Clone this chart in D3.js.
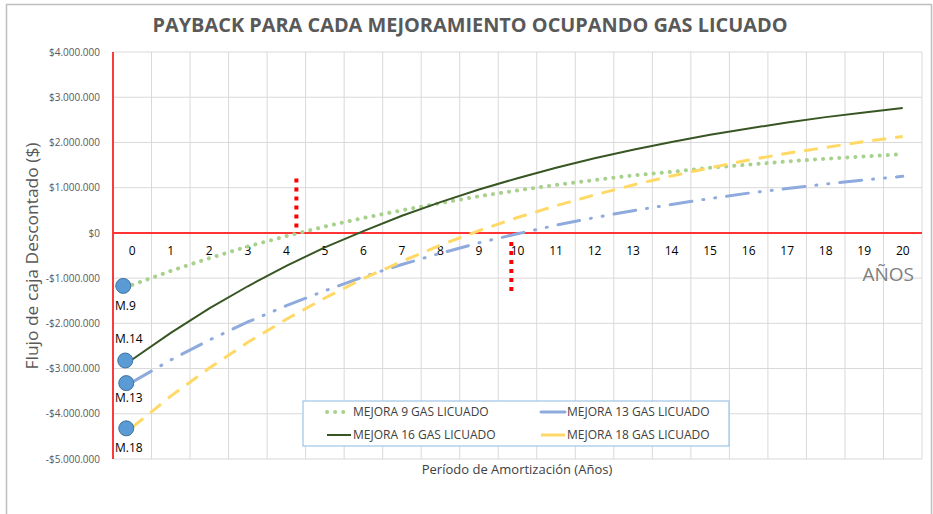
<!DOCTYPE html>
<html>
<head>
<meta charset="utf-8">
<title>Payback para cada mejoramiento</title>
<script src="https://cdn.jsdelivr.net/npm/d3@7"></script>
<style>
  body { margin: 0; background: #fff; }
  svg text { font-family: "Open Sans", "Liberation Sans", sans-serif; }
</style>
</head>
<body>
<svg id="chart" width="933" height="514"></svg>
<script>
  // años 0..20
  const years = d3.range(0, 21);
  const yTicks = [4000000, 3000000, 2000000, 1000000, 0, -1000000, -2000000, -3000000, -4000000, -5000000];

  // flujo de caja descontado acumulado (millones)
  const mejora9 = [-1.15, -0.84, -0.56, -0.30, -0.07, 0.14, 0.33, 0.50, 0.66, 0.81, 0.94, 1.06, 1.17, 1.27, 1.35, 1.44, 1.51, 1.58, 1.64, 1.69, 1.74];
  const mejora13 = [-3.30, -2.81, -2.37, -1.97, -1.61, -1.28, -0.97, -0.70, -0.45, -0.22, -0.02, 0.17, 0.34, 0.49, 0.63, 0.76, 0.88, 0.98, 1.08, 1.17, 1.25];
  const mejora16 = [-2.80, -2.21, -1.67, -1.18, -0.73, -0.32, 0.04, 0.38, 0.68, 0.96, 1.21, 1.44, 1.65, 1.84, 2.01, 2.17, 2.31, 2.44, 2.56, 2.66, 2.76];
  const mejora18 = [-4.30, -3.61, -2.99, -2.42, -1.91, -1.44, -1.01, -0.63, -0.27, 0.05, 0.34, 0.60, 0.84, 1.06, 1.26, 1.44, 1.61, 1.76, 1.89, 2.02, 2.13];

  const series = [
    { name: "MEJORA 9 GAS LICUADO", values: mejora9, color: "#a9d18e", width: 4, dash: "0.1 8", cap: "round" },
    { name: "MEJORA 13 GAS LICUADO", values: mejora13, color: "#8faadc", width: 3, dash: "22 11 1 11 1 11", cap: "round" },
    { name: "MEJORA 16 GAS LICUADO", values: mejora16, color: "#375623", width: 2, dash: null, cap: "butt" },
    { name: "MEJORA 18 GAS LICUADO", values: mejora18, color: "#ffd966", width: 3, dash: "14 9", cap: "butt" }
  ];

  // marcadores manuales al inicio de cada curva
  const markers = [
    { label: "M.9", value: mejora9[0], dx: -9, ly: 310 },
    { label: "M.14", value: mejora16[0], dx: -7, ly: 343 },
    { label: "M.13", value: mejora13[0], dx: -6, ly: 402 },
    { label: "M.18", value: mejora18[0], dx: -6, ly: 452 }
  ];

  const svg = d3.select("#chart");
  const margin = { top: 52, right: 11, bottom: 55, left: 113 };
  const width = 933 - margin.left - margin.right,
    height = 514 - margin.top - margin.bottom;

  // marco exterior
  svg.append("rect")
    .attr("x", 6.5).attr("y", 4.5)
    .attr("width", 925).attr("height", 520)
    .attr("fill", "none")
    .attr("stroke", "#bfbfbf")
    .attr("stroke-width", 1.5);

  const g = svg.append("g").attr("transform", `translate(${margin.left}, ${margin.top})`);

  const x = d3.scaleBand()
    .domain(years)
    .range([0, width]);

  const y = d3.scaleLinear()
    .domain([-5000000, 4000000])
    .range([height, 0]);

  const xc = d => x(d) + x.bandwidth() / 2;

  // grilla
  g.selectAll(".hgrid")
    .data(yTicks)
    .enter().append("line")
    .attr("x1", 0).attr("x2", width)
    .attr("y1", d => y(d)).attr("y2", d => y(d))
    .attr("stroke", "#d9d9d9").attr("stroke-width", 1);

  g.selectAll(".vgrid")
    .data(years.concat([21]))
    .enter().append("line")
    .attr("x1", d => d === 21 ? width : x(d)).attr("x2", d => d === 21 ? width : x(d))
    .attr("y1", 0).attr("y2", height)
    .attr("stroke", "#d9d9d9").attr("stroke-width", 1);

  // eje y
  const yAxis = g.append("g")
    .call(d3.axisLeft(y)
      .tickValues(yTicks)
      .tickSize(0)
      .tickPadding(13)
      .tickFormat(d => (d < 0 ? "-$" : "$") + d3.format(",")(Math.abs(d)).replace(/,/g, ".")));
  yAxis.select(".domain").remove();
  yAxis.selectAll("text")
    .attr("fill", "#595959")
    .style("font-size", "10px");

  // ejes rojos
  g.append("line")
    .attr("x1", 0).attr("x2", 0).attr("y1", 0).attr("y2", height)
    .attr("stroke", "#ff0000").attr("stroke-width", 1.5);
  g.append("line")
    .attr("x1", 0).attr("x2", width).attr("y1", y(0)).attr("y2", y(0))
    .attr("stroke", "#ff3333").attr("stroke-width", 2);

  // etiquetas de años sobre el eje cero
  const xAxis = g.append("g")
    .attr("transform", `translate(0, ${y(0)})`)
    .call(d3.axisBottom(x).tickSize(0).tickPadding(14));
  xAxis.select(".domain").remove();
  xAxis.selectAll("text")
    .attr("fill", "#000")
    .style("font-size", "12px");

  g.append("text")
    .attr("x", width - 8)
    .attr("y", y(0) + 48)
    .attr("text-anchor", "end")
    .attr("fill", "#7f7f7f")
    .style("font-size", "19px")
    .text("AÑOS");

  // curvas
  const line = d3.line()
    .x((d, i) => xc(years[i]))
    .y(d => y(d * 1000000));

  series.forEach(s => {
    g.append("path")
      .datum(s.values)
      .attr("fill", "none")
      .attr("stroke", s.color)
      .attr("stroke-width", s.width)
      .attr("stroke-linecap", s.cap)
      .attr("stroke-dasharray", s.dash)
      .attr("d", line);
  });

  // líneas punteadas rojas de payback
  g.append("line")
    .attr("x1", xc(4) + 0.26 * x.step()).attr("x2", xc(4) + 0.26 * x.step())
    .attr("y1", y(1200000)).attr("y2", y(0))
    .attr("stroke", "#ff0000").attr("stroke-width", 4)
    .attr("stroke-dasharray", "4 5");
  g.append("line")
    .attr("x1", xc(9) + 0.84 * x.step()).attr("x2", xc(9) + 0.84 * x.step())
    .attr("y1", y(-200000)).attr("y2", y(-1350000))
    .attr("stroke", "#ff0000").attr("stroke-width", 4)
    .attr("stroke-dasharray", "4 5");

  // marcadores
  markers.forEach(m => {
    g.append("circle")
      .attr("cx", xc(0) + m.dx)
      .attr("cy", y(m.value * 1000000) + 1)
      .attr("r", 7.5)
      .attr("fill", "#5b9bd5")
      .attr("stroke", "#41719c")
      .attr("stroke-width", 1);
    g.append("text")
      .attr("x", 2)
      .attr("y", m.ly - margin.top)
      .attr("fill", "#000")
      .style("font-size", "12px")
      .text(m.label);
  });

  // leyenda
  const legend = svg.append("g").attr("transform", "translate(303, 401)");
  legend.append("rect")
    .attr("width", 426).attr("height", 45)
    .attr("fill", "#fff")
    .attr("stroke", "#9dc3e6")
    .attr("stroke-width", 1.2);

  const legendPos = [[24, 11], [238, 11], [24, 34], [238, 34]];
  const legendOrder = [0, 1, 2, 3];
  legendOrder.forEach((si, k) => {
    const s = series[si];
    const [lx, ly] = legendPos[k];
    legend.append("line")
      .attr("x1", lx).attr("x2", lx + 24)
      .attr("y1", ly).attr("y2", ly)
      .attr("stroke", s.color)
      .attr("stroke-width", s.width)
      .attr("stroke-linecap", s.cap)
      .attr("stroke-dasharray", si === 0 ? "0.1 8" : null);
    legend.append("text")
      .attr("x", lx + 26)
      .attr("y", ly)
      .attr("dy", "0.35em")
      .attr("fill", "#404040")
      .style("font-size", "12px")
      .text(s.name);
  });

  // títulos
  svg.append("text")
    .attr("x", 470)
    .attr("y", 32)
    .attr("text-anchor", "middle")
    .attr("fill", "#595959")
    .style("font-size", "19px")
    .style("font-weight", "bold")
    .attr("textLength", 635)
    .attr("lengthAdjust", "spacingAndGlyphs")
    .text("PAYBACK PARA CADA MEJORAMIENTO OCUPANDO GAS LICUADO");

  svg.append("text")
    .attr("transform", "translate(38, 256) rotate(-90)")
    .attr("text-anchor", "middle")
    .attr("fill", "#595959")
    .style("font-size", "16px")
    .attr("textLength", 227)
    .attr("lengthAdjust", "spacingAndGlyphs")
    .text("Flujo de caja Descontado ($)");

  svg.append("text")
    .attr("x", 517)
    .attr("y", 474)
    .attr("text-anchor", "middle")
    .attr("fill", "#404040")
    .style("font-size", "13px")
    .text("Período de Amortización (Años)");
</script>
</body>
</html>
